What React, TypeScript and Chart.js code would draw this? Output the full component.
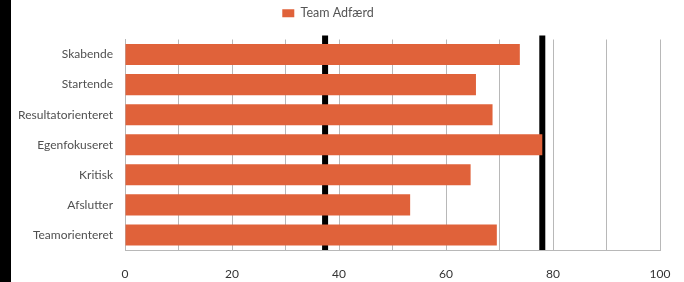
import React, { useEffect, useRef } from "react";
import { Chart, registerables } from "chart.js";

Chart.register(...registerables);

const categories = [
  "Skabende",
  "Startende",
  "Resultatorienteret",
  "Egenfokuseret",
  "Kritisk",
  "Afslutter",
  "Teamorienteret",
];
const teamValues = [73.8, 65.6, 68.7, 78.0, 64.6, 53.3, 69.5];
const seriesLabel = "Team Adfærd";
const markerValues = [37.4, 78.0];
const xMin = 0;
const xMax = 100;

const FONT = "Lato, 'Open Sans', sans-serif";
const CANVAS_LEFT = -4;
const CANVAS_W = 688;
const CANVAS_H = 282;

const markerPlugin = {
  id: "markerLines",
  beforeDatasetsDraw(chart: any) {
    const { ctx, chartArea } = chart;
    const xs = chart.scales.x;
    ctx.save();
    ctx.strokeStyle = "#000000";
    ctx.lineWidth = 6;
    markerValues.forEach((v) => {
      const px = xs.getPixelForValue(v);
      ctx.beginPath();
      ctx.moveTo(px, chartArea.top - 4);
      ctx.lineTo(px, chartArea.bottom);
      ctx.stroke();
    });
    ctx.restore();
  },
};

const legendSpacer = {
  id: "legendSpacer",
  beforeInit(chart: any) {
    const origFit = chart.legend.fit;
    chart.legend.fit = function () {
      origFit.bind(this)();
      this.height += 10;
    };
  },
};

export default function App() {
  const ref = useRef<HTMLCanvasElement | null>(null);
  useEffect(() => {
    if (!ref.current) return;
    const chart = new Chart(ref.current, {
      type: "bar",
      data: {
        labels: categories,
        datasets: [
          {
            label: seriesLabel,
            data: teamValues,
            backgroundColor: "#E0623A",
            borderWidth: 0,
            barPercentage: 0.7,
            categoryPercentage: 1.0,
          },
        ],
      },
      plugins: [markerPlugin, legendSpacer],
      options: {
        indexAxis: "y",
        animation: false,
        responsive: false,
        layout: { padding: { left: 0, right: 24, top: 0, bottom: 0 } },
        plugins: {
          legend: {
            display: true,
            position: "top",
            labels: {
              boxWidth: 12,
              boxHeight: 8,
              padding: 7,
              color: "#555555",
              font: { family: FONT, size: 12.5 },
            },
          },
          tooltip: { enabled: false },
        },
        scales: {
          x: {
            type: "linear",
            min: xMin,
            max: xMax,
            ticks: {
              stepSize: 10,
              padding: 17,
              color: "#333333",
              font: { family: FONT, size: 12 },
              maxRotation: 0,
              callback: (v: any) => (Number(v) % 20 === 0 ? String(v) : ""),
            },
            grid: {
              display: true,
              color: "#b8b8b8",
              lineWidth: 1,
              drawTicks: false,
            },
            border: { display: true, color: "#b8b8b8" },
            afterFit: (scale: any) => {
              scale.height = 32;
              scale.paddingRight = 0;
              scale.paddingLeft = 0;
            },
          },
          y: {
            ticks: {
              padding: 12,
              color: "#505050",
              font: { family: FONT, size: 12 },
            },
            grid: { display: false, drawTicks: false },
            border: { display: true, color: "#b8b8b8" },
            afterFit: (scale: any) => {
              scale.width = 125 - CANVAS_LEFT;
            },
          },
        },
      },
    });
    return () => chart.destroy();
  }, []);

  return (
    <div>
      <div
        style={{
          position: "absolute",
          left: CANVAS_LEFT,
          top: 0,
          width: CANVAS_W,
          height: CANVAS_H,
          background: "#ffffff",
        }}
      >
        <canvas
          ref={ref}
          width={CANVAS_W}
          height={CANVAS_H}
          style={{ width: CANVAS_W, height: CANVAS_H, display: "block" }}
        />
      </div>
      <div
        style={{
          position: "absolute",
          left: 0,
          top: 0,
          width: 11,
          height: CANVAS_H,
          background: "#000000",
          zIndex: 2,
        }}
      />
    </div>
  );
}
